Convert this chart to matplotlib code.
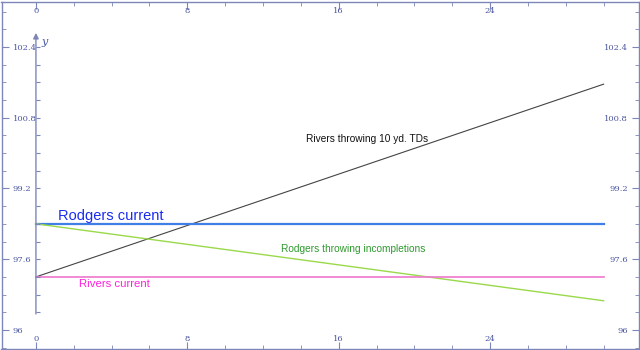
#!/usr/bin/env python3

import matplotlib
matplotlib.use("Agg")
import matplotlib.pyplot as plt
import numpy as np

# data
x_ends = [0, 30]
rivers_current = [97.2, 97.2]
rivers_tds = [97.2, 101.56]
rodgers_current = [98.4, 98.4]
rodgers_incomp = [98.4, 96.66]

x_major = [0, 8, 16, 24]
y_major = [96, 97.6, 99.2, 100.8, 102.4]
y_labels = ["96", "97.6", "99.2", "100.8", "102.4"]

frame_col = "#7c86b8"
label_col = "#4a55a0"

fig = plt.figure(figsize=(6.4, 3.5), dpi=100)
ax = fig.add_axes([1.5 / 640, 1.5 / 350, 637.5 / 640, 347 / 350])
ax.set_xlim(-1.82, 31.87)
ax.set_ylim(95.58, 103.43)

ax.plot(x_ends, rivers_tds, color="#444444", lw=0.8)
ax.plot(x_ends, rodgers_current, color="#3f7fe6", lw=1.6)
ax.plot(x_ends, rodgers_incomp, color="#9ad94a", lw=1.0)
ax.plot(x_ends, rivers_current, color="#ee77cc", lw=1.2)

txt = dict(family="Liberation Sans")
ax.text(1.15, 98.58, "Rodgers current", color="#1a2cf0", fontsize=10.5, va="center", **txt)
ax.text(2.25, 97.03, "Rivers current", color="#ff22dd", fontsize=8.2, va="center", **txt)
ax.text(14.27, 100.32, "Rivers throwing 10 yd. TDs", color="#111111", fontsize=7.3, va="center", **txt)
ax.text(12.95, 97.83, "Rodgers throwing incompletions", color="#2e9a2e", fontsize=7.3, va="center", **txt)

# y axis through x=0 with arrow
ax.annotate("", xy=(0, 102.72), xytext=(0, 96.36),
            arrowprops=dict(arrowstyle="-|>", color=frame_col, lw=1.0,
                            mutation_scale=8, shrinkA=0, shrinkB=0))
y_minor = np.arange(96.4, 102.5, 0.4)
ax.plot(np.zeros_like(y_minor), y_minor, linestyle="none", marker=1,
        markersize=3, color=frame_col, mew=0.8)
ax.text(0.3, 102.45, "y", color=label_col, fontsize=8, style="italic", family="DejaVu Serif")

# frame and ticks, labels inside the frame
for s in ax.spines.values():
    s.set_color(frame_col)
    s.set_linewidth(1.0)
ax.set_xticks(x_major)
ax.set_xticks(np.arange(-0, 32, 2), minor=True)
ax.set_yticks(y_major)
ax.set_yticklabels(y_labels)
ax.set_yticks(np.arange(95.6, 103.5, 0.4), minor=True)
ax.tick_params(which="both", direction="in", colors=frame_col, labelcolor=label_col,
               top=True, bottom=True, left=True, right=True,
               labeltop=True, labelbottom=True, labelleft=True, labelright=True)
ax.tick_params(which="major", length=5, width=0.8, labelsize=6)
ax.tick_params(which="minor", length=3, width=0.6)
ax.tick_params(axis="x", pad=-10)
ax.tick_params(axis="y", pad=-8)
for lbl in ax.get_xticklabels() + ax.get_yticklabels():
    lbl.set_family("DejaVu Serif")
for t in ax.yaxis.get_major_ticks():
    t.label1.set_ha("left")
    t.label2.set_ha("right")

fig.savefig("out.png", dpi=100)
